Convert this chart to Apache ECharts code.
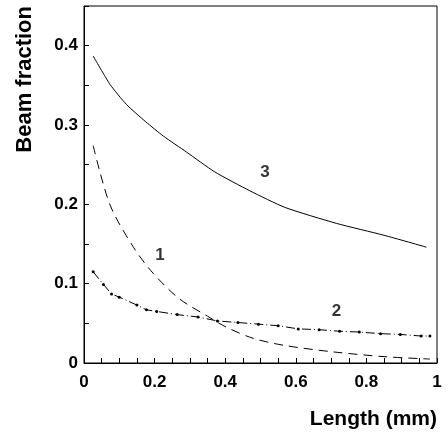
<!DOCTYPE html>
<html>
<head>
<meta charset="UTF-8">
<script src="https://cdn.jsdelivr.net/npm/echarts@6/dist/echarts.min.js"></script>
</head>
<body style="margin:0">
<div id="main" style="width:448px;height:438px;"></div>
<script>
// curve 3 (solid)
var curve3 = [[0.026,0.387],[0.074,0.351],[0.12,0.326],[0.175,0.304],[0.225,0.286],[0.29,0.266],[0.37,0.241],[0.47,0.217],[0.57,0.196],[0.715,0.176],[0.85,0.161],[0.97,0.146]];
// curve 1 (dashed)
var curve1 = [[0.026,0.274],[0.074,0.199],[0.14,0.146],[0.196,0.113],[0.27,0.081],[0.35,0.059],[0.404,0.045],[0.48,0.031],[0.57,0.022],[0.706,0.014],[0.85,0.008],[0.98,0.005]];
// curve 2 (dash-dot), points carry the dots
var curve2 = [[0.026,0.115],[0.055,0.099],[0.078,0.087],[0.1,0.083],[0.15,0.073],[0.177,0.067],[0.206,0.065],[0.264,0.061],[0.323,0.058],[0.378,0.053],[0.436,0.051],[0.494,0.049],[0.55,0.047],[0.607,0.043],[0.666,0.042],[0.724,0.040],[0.78,0.039],[0.84,0.037],[0.896,0.036],[0.955,0.034],[0.98,0.034]];
var labels = [['3',0.513,0.240],['1',0.215,0.136],['2',0.715,0.065]];

var font = 'Liberation Sans, Arial, sans-serif';
var chart = echarts.init(document.getElementById('main'));
chart.setOption({
  animation: false,
  grid: {left: 84, right: 11, top: 6, bottom: 75, show: true, borderColor: '#000', borderWidth: 1},
  xAxis: {
    type: 'value', min: 0, max: 1, interval: 0.05,
    name: 'Length (mm)', nameLocation: 'end', nameGap: 0,
    nameTextStyle: {fontFamily: font, fontWeight: 'bold', fontSize: 21, color: '#000', align: 'right', verticalAlign: 'top', padding: [46, 0, 0, 0]},
    axisLine: {lineStyle: {color: '#000'}},
    axisTick: {inside: true, length: 5, lineStyle: {color: '#000'}},
    splitLine: {show: false},
    axisLabel: {fontFamily: font, fontWeight: 'bold', fontSize: 17, color: '#000', margin: 11,
      formatter: function (v) { return Math.round(v * 100) % 20 === 0 ? String(+v.toFixed(1)) : ''; }}
  },
  yAxis: {
    type: 'value', min: 0, max: 0.45, interval: 0.05,
    name: 'Beam fraction', nameLocation: 'end', nameRotate: 90, nameGap: 0,
    nameTextStyle: {fontFamily: font, fontWeight: 'bold', fontSize: 22, color: '#000', align: 'right', verticalAlign: 'bottom', padding: [0, 0, 48, 0]},
    axisLine: {show: true, lineStyle: {color: '#000'}},
    axisTick: {show: true, inside: true, length: 5, lineStyle: {color: '#000'}},
    splitLine: {show: false},
    axisLabel: {fontFamily: font, fontWeight: 'bold', fontSize: 17, color: '#000', margin: 6,
      formatter: function (v) { return Math.round(v * 100) % 10 === 0 ? String(+v.toFixed(1)) : ''; }}
  },
  series: [
    {type: 'line', data: curve3, showSymbol: false, smooth: 0.2, lineStyle: {color: '#000', width: 1}},
    {type: 'line', data: curve1, showSymbol: false, smooth: 0.3, lineStyle: {color: '#000', width: 1, type: [9, 6]}},
    {type: 'line', data: curve2, symbol: 'circle', symbolSize: 3, itemStyle: {color: '#000'}, lineStyle: {color: '#000', width: 1, type: [9, 3, 1, 3]}},
    {type: 'scatter', data: labels.map(function (l) { return {value: [l[1], l[2]], name: l[0]}; }), symbolSize: 0,
      label: {show: true, position: 'inside', formatter: '{b}', fontFamily: font, fontWeight: 'bold', fontSize: 17, color: '#000'}}
  ]
});
</script>
</body>
</html>
